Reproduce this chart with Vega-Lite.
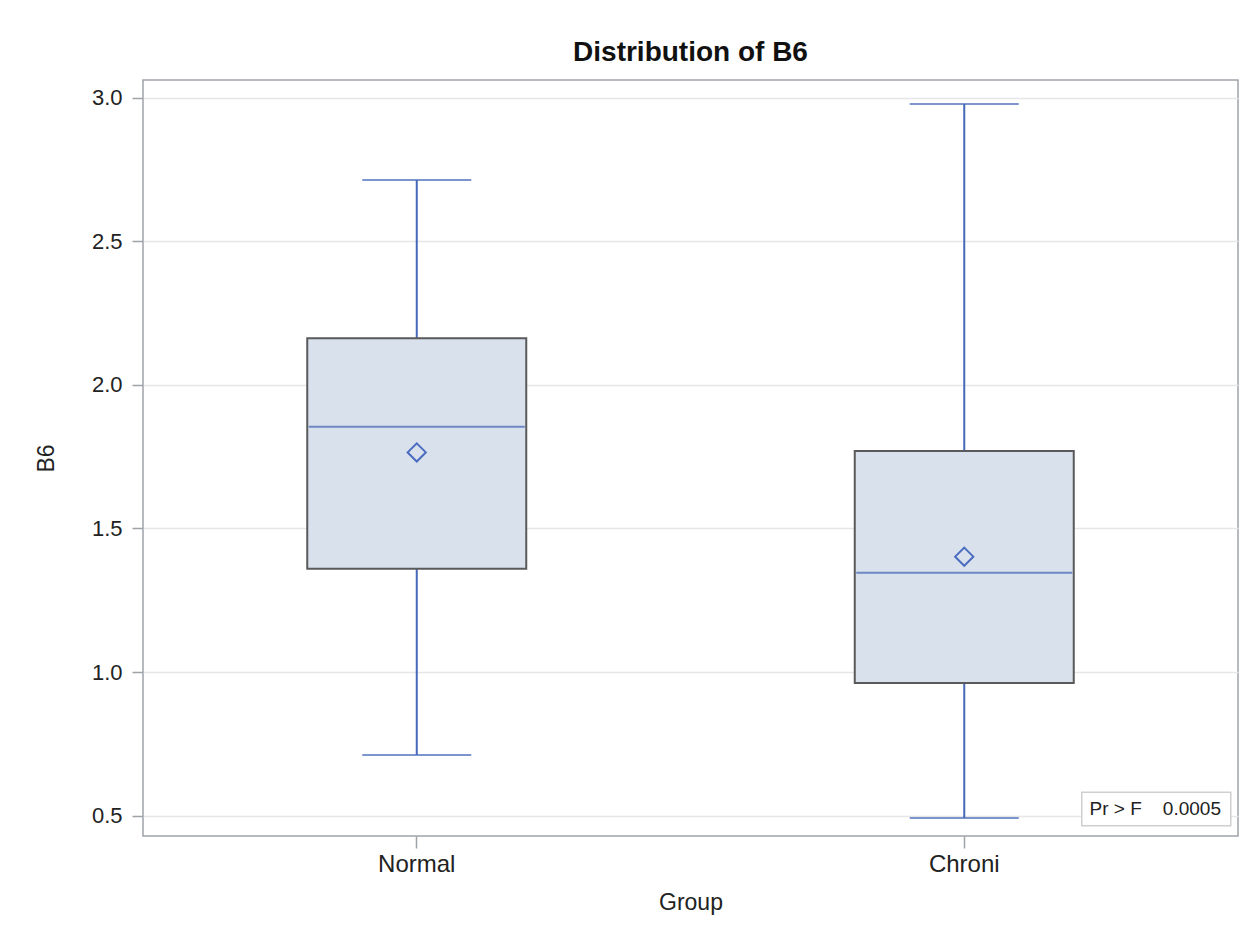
{
  "$schema": "https://vega.github.io/schema/vega-lite/v6.json",
  "autosize": "none",
  "padding": {"left": 143, "top": 80, "right": 10, "bottom": 107},
  "width": 1095,
  "height": 756,
  "background": "white",
  "config": {
    "font": "Liberation Sans",
    "view": {"stroke": "#9ea3a8", "strokeWidth": 1.5},
    "axis": {
      "labelFont": "Liberation Sans",
      "titleFont": "Liberation Sans",
      "labelColor": "#222222",
      "titleColor": "#222222",
      "titleFontWeight": "normal",
      "domain": false,
      "tickColor": "#9ea3a8",
      "tickWidth": 1.5
    }
  },
  "title": {
    "text": "Distribution of B6",
    "font": "Liberation Sans",
    "fontSize": 28,
    "fontWeight": "bold",
    "color": "#111111",
    "anchor": "middle",
    "offset": 13
  },
  "data": {
    "values": [
      {"Group": "Normal", "min": 0.711, "q1": 1.360, "median": 1.854, "q3": 2.162, "max": 2.713, "mean": 1.765},
      {"Group": "Chroni", "min": 0.492, "q1": 0.962, "median": 1.346, "q3": 1.770, "max": 2.978, "mean": 1.402}
    ]
  },
  "encoding": {
    "x": {
      "field": "Group",
      "type": "nominal",
      "scale": {"domain": ["Normal", "Chroni"], "paddingInner": 0, "paddingOuter": 0},
      "axis": {
        "title": "Group",
        "labelAngle": 0,
        "labelFontSize": 24,
        "titleFontSize": 23,
        "tickSize": 12,
        "labelPadding": 4,
        "titlePadding": 15,
        "grid": false
      }
    }
  },
  "layer": [
    {
      "mark": {"type": "rule", "color": "#4569b8", "strokeWidth": 2},
      "encoding": {
        "y": {
          "field": "min",
          "type": "quantitative",
          "scale": {"domain": [0.4293, 3.0616], "nice": false, "zero": false},
          "axis": {
            "title": "B6",
            "values": [0.5, 1.0, 1.5, 2.0, 2.5, 3.0],
            "format": ".1f",
            "labelFontSize": 22,
            "titleFontSize": 23,
            "tickSize": 11,
            "labelPadding": 10,
            "titlePadding": 33,
            "grid": true,
            "gridColor": "#e6e6e6",
            "gridWidth": 1.5
          }
        },
        "y2": {"field": "max"}
      }
    },
    {
      "mark": {"type": "tick", "color": "#4569b8", "size": 109, "thickness": 2},
      "encoding": {"y": {"field": "min", "type": "quantitative"}}
    },
    {
      "mark": {"type": "tick", "color": "#4569b8", "size": 109, "thickness": 2},
      "encoding": {"y": {"field": "max", "type": "quantitative"}}
    },
    {
      "mark": {"type": "bar", "width": {"band": 0.4}, "fill": "#d9e1ec", "stroke": "#5a5a5a", "strokeWidth": 2},
      "encoding": {
        "y": {"field": "q1", "type": "quantitative"},
        "y2": {"field": "q3"}
      }
    },
    {
      "mark": {"type": "tick", "color": "#3f63b4", "size": 216, "thickness": 2},
      "encoding": {"y": {"field": "median", "type": "quantitative"}}
    },
    {
      "mark": {"type": "point", "shape": "diamond", "filled": false, "stroke": "#4a6cc0", "strokeWidth": 2, "size": 330, "opacity": 1},
      "encoding": {"y": {"field": "mean", "type": "quantitative"}}
    },
    {
      "data": {"values": [{"label": "Pr > F\u00a0\u00a0\u00a0 0.0005", "Group": "Chroni", "top": 0.5815, "bottom": 0.465, "mid": 0.523}]},
      "layer": [
        {
          "mark": {"type": "bar", "width": 149, "xOffset": 192, "fill": "white", "stroke": "#cfcfcf", "strokeWidth": 1.5},
          "encoding": {
            "y": {"field": "top", "type": "quantitative"},
            "y2": {"field": "bottom"}
          }
        },
        {
          "mark": {"type": "text", "align": "center", "baseline": "middle", "xOffset": 191, "fontSize": 19, "color": "#222222", "font": "Liberation Sans"},
          "encoding": {
            "y": {"field": "mid", "type": "quantitative"},
            "text": {"field": "label"}
          }
        }
      ]
    }
  ]
}
